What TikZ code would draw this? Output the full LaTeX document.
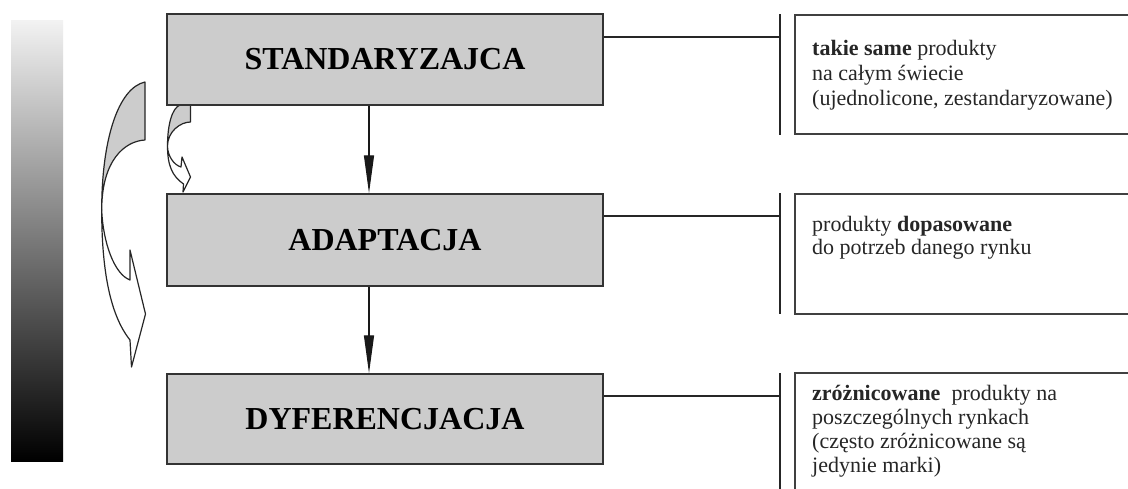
\documentclass[tikz,border=0pt]{standalone}
\usepackage{fontspec}
\setmainfont{Liberation Serif}
\usetikzlibrary{arrows.meta}
\begin{document}
\begin{tikzpicture}[x=1pt,y=-1pt,
  titlebox/.style={draw=black!80, line width=1.5pt, fill=black!20, minimum width=436pt, inner sep=0pt, font=\fontsize{32}{38}\selectfont\bfseries},
  link/.style={line width=1.5pt, draw=black!85},
  bar/.style={line width=2pt, draw=black!85},
  rbox/.style={line width=2pt, draw=black!75},
  desc/.style={anchor=base west, inner sep=0pt, font=\fontsize{22}{25}\selectfont, text=black!85},
  flow/.style={line width=1.3pt, draw=black!90, -{Triangle[length=38pt,width=10pt]}},
  curl/.style={draw=black!85, line width=1.2pt, line join=round},
]
\useasboundingbox (0,0) rectangle (1128,488);
\fill[white] (0,0) rectangle (1128,488);

% gradient scale
\shade[top color=white!95!black, bottom color=black] (11,20) rectangle (63,461);

% big curved arrow
\filldraw[curl, fill=black!20] (145,82) .. controls (118,88) and (101.7,140) .. (101.7,210)
  .. controls (101.7,160) and (125,141) .. (145,140) -- cycle;
\filldraw[curl, fill=white] (101.7,210) .. controls (101.7,270) and (110,315) .. (130,340)
  -- (131.5,367) -- (145.5,314) -- (130,250) -- (130,280)
  .. controls (114,274) and (103,242) .. (101.7,210) -- cycle;

% small curved arrow
\filldraw[curl, fill=black!20] (180,105) -- (190.5,105) -- (190.5,122)
  .. controls (180,122) and (167.5,132) .. (167.5,146)
  .. controls (167.5,125) and (172,108) .. (180,105) -- cycle;
\filldraw[curl, fill=white] (167.5,146) .. controls (167.5,165) and (172,176) .. (183.5,184)
  -- (183,192) -- (190.5,177) -- (182,157) -- (181,167)
  .. controls (174,165) and (167.5,156) .. (167.5,146) -- cycle;

% main boxes
\node[titlebox, minimum height=91pt] (std) at (385,59.5) {STANDARYZAJCA};
\node[titlebox, minimum height=92pt] (ada) at (385,240) {ADAPTACJA};
\node[titlebox, minimum height=90pt] (dyf) at (385,419) {DYFERENCJACJA};

% vertical arrows
\coordinate (ax) at (369,0);
\draw[flow] (std.south -| ax) -- (ada.north -| ax);
\draw[flow] (ada.south -| ax) -- (dyf.north -| ax);

% bars and links
\coordinate (b1t) at (780,14);  \coordinate (b1b) at (780,135);
\coordinate (b2t) at (780,193); \coordinate (b2b) at (780,314);
\coordinate (b3t) at (780,373); \coordinate (b3b) at (780,495);
\draw[bar] (b1t) -- (b1b);
\draw[bar] (b2t) -- (b2b);
\draw[bar] (b3t) -- (b3b);
\coordinate (j1) at (780,37);
\coordinate (j2) at (780,216);
\coordinate (j3) at (780,396);
\draw[link] (std.east |- j1) -- (j1);
\draw[link] (ada.east |- j2) -- (j2);
\draw[link] (dyf.east |- j3) -- (j3);

% right boxes (open to the right edge)
\draw[rbox] (1140,15) -- (795,15) -- (795,134) -- (1140,134);
\draw[rbox] (1140,194) -- (795,194) -- (795,314) -- (1140,314);
\draw[rbox] (1140,373) -- (795,373) -- (795,500);

% descriptions
\node[desc] (t1) at (812,55) {\begin{tabular}[t]{@{}l@{}}\textbf{takie same} produkty\\ na całym świecie\\ (ujednolicone, zestandaryzowane)\end{tabular}};
\node[desc, font=\fontsize{22}{23}\selectfont] (t2) at (812,231) {\begin{tabular}[t]{@{}l@{}}produkty \textbf{dopasowane}\\ do potrzeb danego rynku\end{tabular}};
\node[desc, font=\fontsize{22}{24}\selectfont] (t3) at (812,400) {\begin{tabular}[t]{@{}l@{}}\textbf{zróżnicowane}\ \ produkty na\\ poszczególnych rynkach\\ (często zróżnicowane są\\ jedynie marki)\end{tabular}};
\end{tikzpicture}
\end{document}
